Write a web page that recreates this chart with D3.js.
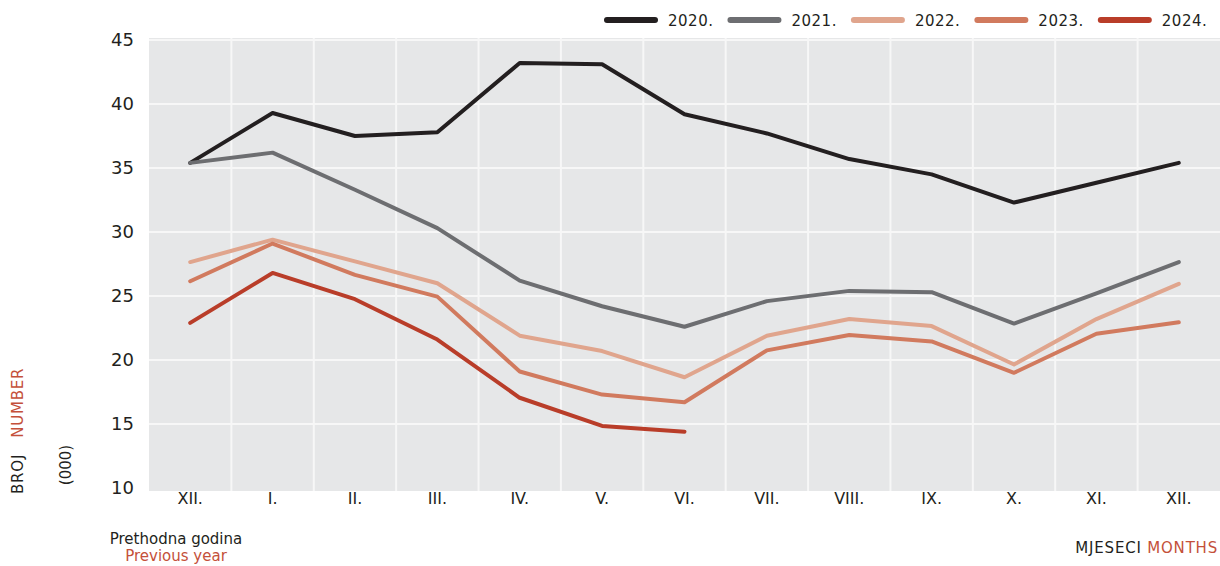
<!DOCTYPE html>
<html>
<head>
<meta charset="utf-8">
<script src="https://cdn.jsdelivr.net/npm/d3@7"></script>
<style>
  body { margin: 0; background: #fff; }
  text { font-family: "DejaVu Sans", "Liberation Sans", Arial, sans-serif; }
</style>
</head>
<body>
<svg width="1220" height="566"></svg>
<script>
// month labels (previous December first)
const months = ["XII.", "I.", "II.", "III.", "IV.", "V.", "VI.", "VII.", "VIII.", "IX.", "X.", "XI.", "XII."];
const yTicks = [10, 15, 20, 25, 30, 35, 40, 45];

// values in thousands
const y2020 = [35.4, 39.3, 37.5, 37.8, 43.2, 43.1, 39.2, 37.7, 35.7, 34.5, 32.3, 33.85, 35.4];
const y2021 = [35.4, 36.2, 33.3, 30.3, 26.2, 24.2, 22.6, 24.6, 25.4, 25.3, 22.85, 25.2, 27.65];
const y2022 = [27.65, 29.4, 27.7, 26.0, 21.9, 20.7, 18.65, 21.9, 23.2, 22.65, 19.65, 23.2, 25.95];
const y2023 = [26.15, 29.1, 26.65, 24.95, 19.1, 17.3, 16.7, 20.75, 21.95, 21.45, 19.0, 22.05, 22.95];
const y2024 = [22.9, 26.8, 24.75, 21.6, 17.05, 14.85, 14.4];

const seriesNames = ["2020.", "2021.", "2022.", "2023.", "2024."];
const seriesData = [y2020, y2021, y2022, y2023, y2024];
const colors = ["#231f20", "#6d6e71", "#e0a58d", "#d17a5e", "#b93d29"];
const red = "#c4503a";
const ink = "#231f20";

const svg = d3.select("svg");
const plotLeft = 149, plotRight = 1220, plotTop = 38, plotBottom = 491;

const x = d3.scaleBand()
  .domain(d3.range(months.length))
  .range([plotLeft, plotRight]);

const y = d3.scaleLinear()
  .domain([10, 45])
  .range([488, 40]);

// panel
svg.append("rect")
  .attr("x", plotLeft).attr("y", plotTop)
  .attr("width", plotRight - plotLeft).attr("height", plotBottom - plotTop)
  .attr("fill", "#e6e7e8");

// grid
svg.append("g").selectAll("line")
  .data(yTicks.filter(d => d > 10))
  .join("line")
  .attr("x1", plotLeft).attr("x2", plotRight)
  .attr("y1", d => y(d)).attr("y2", d => y(d))
  .attr("stroke", "#f7f7f7").attr("stroke-width", 2);

svg.append("g").selectAll("line")
  .data(d3.range(1, months.length))
  .join("line")
  .attr("x1", d => x(d)).attr("x2", d => x(d))
  .attr("y1", plotTop).attr("y2", plotBottom)
  .attr("stroke", "#f7f7f7").attr("stroke-width", 2);

// y axis
const yAxis = svg.append("g")
  .attr("transform", `translate(${plotLeft},0)`)
  .call(d3.axisLeft(y).tickValues(yTicks).tickSize(0).tickPadding(15));
yAxis.select(".domain").remove();
yAxis.selectAll("text")
  .attr("font-size", 18).attr("fill", ink)
  .style("font-family", "'DejaVu Sans', sans-serif");

// x axis
const xAxis = svg.append("g")
  .attr("transform", `translate(0,${plotBottom})`)
  .call(d3.axisBottom(x).tickFormat(i => months[i]).tickSize(0).tickPadding(2));
xAxis.select(".domain").remove();
xAxis.selectAll("text")
  .attr("font-size", 16).attr("fill", ink)
  .style("font-family", "'DejaVu Sans', sans-serif");

// lines
const line = d3.line()
  .x((d, i) => x(i) + x.bandwidth() / 2)
  .y(d => y(d));

svg.append("g").selectAll("path")
  .data(seriesData)
  .join("path")
  .attr("d", d => line(d))
  .attr("fill", "none")
  .attr("stroke", (d, i) => colors[i])
  .attr("stroke-width", 4)
  .attr("stroke-linejoin", "round")
  .attr("stroke-linecap", "round");

// legend
const legend = svg.append("g").attr("transform", "translate(604,20)");
let lx = 0;
seriesNames.forEach((name, i) => {
  legend.append("line")
    .attr("x1", lx + 3).attr("x2", lx + 51)
    .attr("y1", 0).attr("y2", 0)
    .attr("stroke", colors[i]).attr("stroke-width", 6)
    .attr("stroke-linecap", "round");
  const t = legend.append("text")
    .attr("x", lx + 64).attr("y", 6)
    .attr("font-size", 15).attr("letter-spacing", 0.5).attr("fill", ink)
    .text(name);
  lx += 64 + t.node().getComputedTextLength() + 14;
});

// y title
svg.append("text")
  .attr("transform", "translate(23,494) rotate(-90)")
  .attr("font-size", 15).attr("letter-spacing", 0.8)
  .call(t => {
    t.append("tspan").attr("fill", ink).text("BROJ");
    t.append("tspan").attr("fill", red).attr("dx", 16).text("NUMBER");
  });

svg.append("text")
  .attr("transform", "translate(71,465) rotate(-90)")
  .attr("text-anchor", "middle")
  .attr("font-size", 15).attr("fill", ink)
  .text("(000)");

// notes
svg.append("text")
  .attr("x", 176).attr("y", 544)
  .attr("text-anchor", "middle")
  .attr("font-size", 15).attr("fill", ink)
  .text("Prethodna godina");
svg.append("text")
  .attr("x", 176).attr("y", 561)
  .attr("text-anchor", "middle")
  .attr("font-size", 15).attr("fill", red)
  .text("Previous year");

svg.append("text")
  .attr("x", 1218).attr("y", 553)
  .attr("text-anchor", "end")
  .attr("font-size", 15).attr("letter-spacing", 0.8)
  .call(t => {
    t.append("tspan").attr("fill", ink).text("MJESECI ");
    t.append("tspan").attr("fill", red).text("MONTHS");
  });
</script>
</body>
</html>
